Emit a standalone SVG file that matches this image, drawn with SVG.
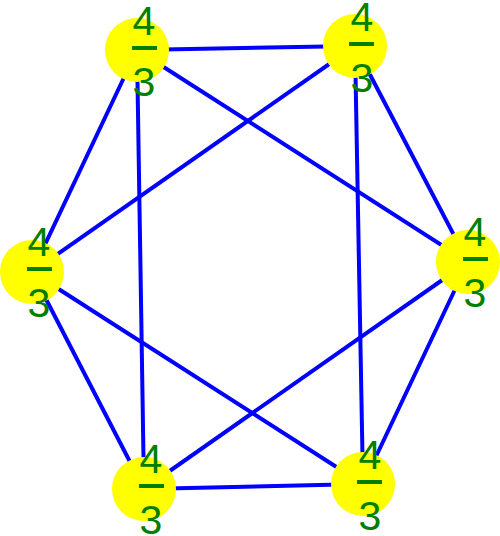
<svg xmlns="http://www.w3.org/2000/svg" width="500" height="536" viewBox="0 0 500 536">
<style>
.e{stroke:#0000ff;stroke-width:4;fill:none}
.n{fill:#ffff00}
.t{font-family:"Liberation Sans",Arial,sans-serif;font-size:41px;fill:#008000;text-anchor:middle}
.d{fill:#008000}
</style>
<rect width="500" height="536" fill="#ffffff"/>
<g id="edges">
<line class="e" x1="137" y1="50" x2="355" y2="46"/>
<line class="e" x1="137" y1="50" x2="32" y2="272"/>
<line class="e" x1="137" y1="50" x2="468" y2="262"/>
<line class="e" x1="137" y1="50" x2="144" y2="489"/>
<line class="e" x1="355" y1="46" x2="32" y2="272"/>
<line class="e" x1="355" y1="46" x2="468" y2="262"/>
<line class="e" x1="355" y1="46" x2="363" y2="484"/>
<line class="e" x1="32" y1="272" x2="144" y2="489"/>
<line class="e" x1="32" y1="272" x2="363" y2="484"/>
<line class="e" x1="468" y1="262" x2="144" y2="489"/>
<line class="e" x1="468" y1="262" x2="363" y2="484"/>
<line class="e" x1="144" y1="489" x2="363" y2="484"/>
</g>
<g id="n1"><circle class="n" cx="137" cy="50" r="32"/><text class="t" x="144" y="35">4</text><rect class="d" x="132" y="46" width="25" height="4"/><text class="t" x="144" y="96">3</text></g>
<g id="n2"><circle class="n" cx="355" cy="46" r="32"/><text class="t" x="362" y="31">4</text><rect class="d" x="349" y="42" width="25" height="4"/><text class="t" x="362" y="92">3</text></g>
<g id="n3"><circle class="n" cx="32" cy="272" r="32"/><text class="t" x="39" y="256">4</text><rect class="d" x="27" y="267" width="25" height="4"/><text class="t" x="39" y="317">3</text></g>
<g id="n4"><circle class="n" cx="468" cy="262" r="32"/><text class="t" x="475" y="246">4</text><rect class="d" x="463" y="257" width="25" height="4"/><text class="t" x="475" y="307">3</text></g>
<g id="n5"><circle class="n" cx="144" cy="489" r="32"/><text class="t" x="151" y="473">4</text><rect class="d" x="139" y="484" width="25" height="4"/><text class="t" x="151" y="534">3</text></g>
<g id="n6"><circle class="n" cx="363" cy="484" r="32"/><text class="t" x="370" y="469">4</text><rect class="d" x="357" y="480" width="25" height="4"/><text class="t" x="370" y="530">3</text></g>
</svg>
